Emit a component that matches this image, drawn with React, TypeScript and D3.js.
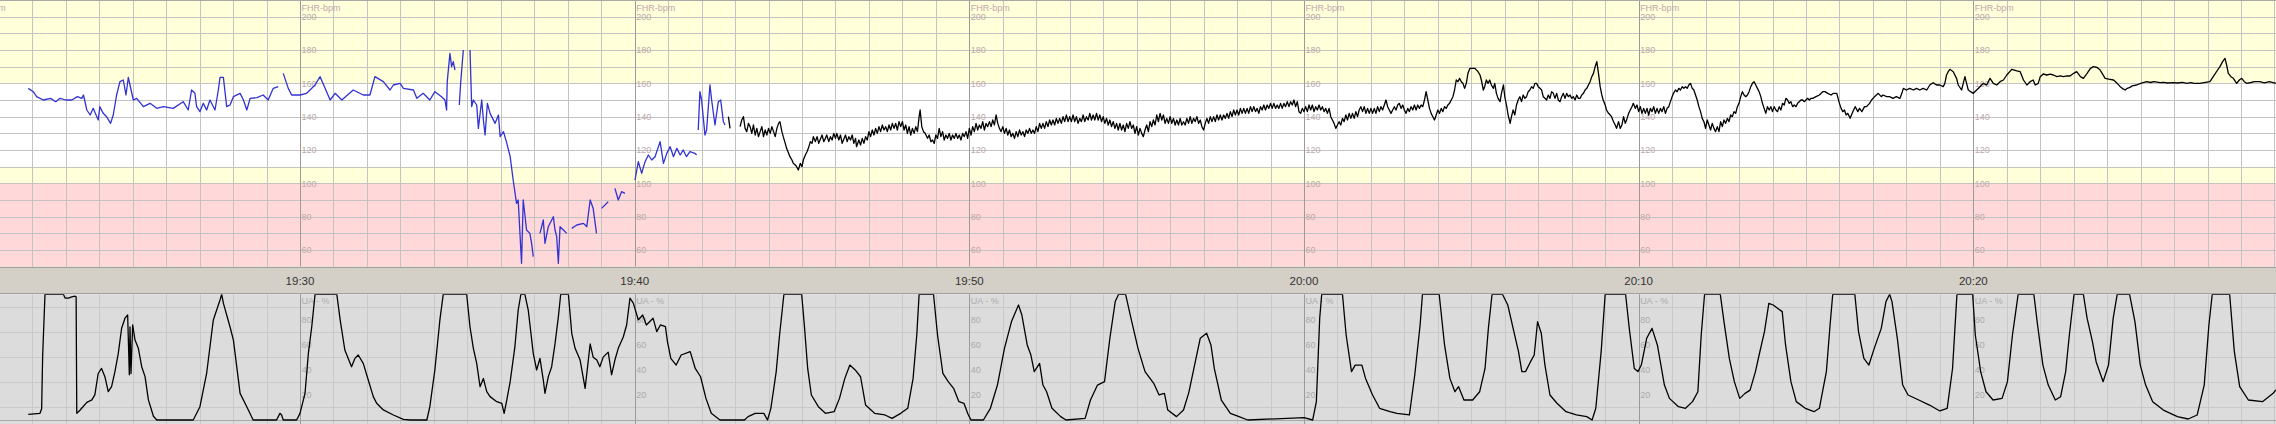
import React from 'react';
import * as d3 from 'd3';

const W = 2276;
const H = 424;

// time in minutes after 19:00
const majorMinutes = [20, 30, 40, 50, 60, 70, 80, 90];
const timeLabels = ['19:20', '19:30', '19:40', '19:50', '20:00', '20:10', '20:20', '20:30'];
const fhrTickValues = [200, 180, 160, 140, 120, 100, 80, 60];
const uaTickValues = [80, 60, 40, 20];
const uaGridValues = [10, 30, 50, 70, 90];

type P = [number, number | null];

const fhrBlue: P[] = [
  [21.88,157],[22.03,155],[22.13,152],[22.33,150],[22.55,151],[22.7,149],[22.83,151],[23.0,150],[23.18,150],[23.35,152],[23.48,151],[23.53,153],[23.63,144],[23.73,141],[23.82,145],[23.97,138],[24.02,146],[24.12,142],[24.22,140],[24.34,136],[24.42,141],[24.52,153],[24.62,161],[24.72,162],[24.80,153],[24.87,163.6],[24.92,159],[25.02,150],[25.12,151],[25.32,146],[25.52,148],[25.72,145],[25.92,146],[26.21,145],[26.51,149],[26.66,144],[26.76,156],[26.86,154],[26.91,146],[27.01,143],[27.11,148],[27.21,144],[27.31,150],[27.46,144],[27.56,156],[27.61,163.6],[27.71,163.6],[27.81,146],[27.91,147],[28.01,152],[28.21,154],[28.31,150],[28.41,144],[28.51,151],[28.71,151.4],[28.90,153],[29.05,150],[29.20,157],[29.35,158],[29.42,null],
  [29.50,166],[29.65,157],[29.75,153],[30.00,153],[30.20,154],[30.45,159],[30.60,164],[30.75,157],[30.90,150],[31.05,154],[31.25,150],[31.59,156],[31.89,153],[32.09,153],[32.24,164],[32.49,161],[32.69,156],[32.79,159],[32.99,160],[33.09,157],[33.39,156],[33.49,151],[33.68,154],[33.88,150],[34.03,155],[34.23,152],[34.33,150],[34.38,144],[34.40,161],[34.48,178],[34.53,170],[34.58,173],[34.63,168],[34.7,null],
  [34.76,147],[34.80,160],[34.88,180],[34.98,null],
  [35.08,180],[35.13,146],[35.18,150],[35.28,147],[35.33,133],[35.43,150],[35.48,138],[35.53,129],[35.60,148],[35.68,142],[35.83,136],[35.93,141],[35.98,128],[36.08,131],[36.18,124],[36.28,116],[36.37,102],[36.47,88],[36.52,90],[36.62,52],[36.67,90],[36.77,72],[36.87,70],[36.92,64],[36.97,56],[37.07,null],
  [37.17,70],[37.27,78],[37.32,64],[37.42,74],[37.57,80],[37.62,72],[37.67,68],[37.72,52],[37.77,74],[37.87,72],[37.97,70],[38.05,null],
  [38.12,73],[38.27,75],[38.47,76],[38.57,74],[38.67,90],[38.76,85],[38.86,70],[38.93,null],
  [39.01,85],[39.21,89],[39.3,null],
  [39.41,97],[39.51,90],[39.61,95],[39.71,94],[39.86,null],
  [40.01,102],[40.11,113],[40.21,106],[40.31,113],[40.41,117],[40.51,114],[40.61,116],[40.76,125],[40.86,112],[40.96,118],[41.06,122],[41.16,116],[41.26,121],[41.36,117],[41.45,120],[41.55,116],[41.65,119],[41.80,118],[41.85,117],[41.87,null],
  [41.90,132],[41.95,155],[42.00,150],[42.10,129],[42.15,132],[42.25,159],[42.30,150],[42.40,135],[42.50,149],[42.57,150],[42.65,137],[42.70,135],
];

const fhrBlack: P[] = [
  [42.80,140],[42.85,133],[43.0,null],
  [43.15,134],[43.2,138],[43.25,140],[43.3,133],[43.35,131],[43.4,136],[43.45,134],[43.5,130],[43.55,135],[43.6,129],[43.65,133],[43.7,128],[43.75,131],[43.8,134],[43.85,128],[43.9,132],[43.95,129],[44.0,133],[44.05,130],[44.1,134],[44.15,131],[44.2,128],[44.25,133],[44.3,136],[44.34,137],[44.4,131],[44.44,128],[44.5,124],[44.54,121],[44.6,118],[44.64,116],[44.7,114],[44.74,112],[44.8,111],[44.84,110],[44.89,108],[44.95,112],[45.0,110],[45.04,114],[45.1,117],[45.15,119],[45.19,121],[45.25,125],[45.3,124],[45.34,128],[45.4,125],[45.45,128],[45.5,124],[45.54,126],[45.6,129],[45.65,125],[45.7,127],[45.74,129],[45.8,125],[45.85,128],[45.9,126],[45.95,130],[46.0,127],[46.04,130],[46.1,126],[46.15,129],[46.2,124],[46.24,126],[46.3,129],[46.35,125],[46.4,128],[46.45,126],[46.5,129],[46.55,124],[46.6,127],[46.63,122],[46.7,126],[46.75,123],[46.8,127],[46.85,124],[46.9,128],[46.95,126],[47.0,131],[47.05,128],[47.1,132],[47.15,129],[47.2,133],[47.25,130],[47.3,134],[47.35,131],[47.4,135],[47.45,132],[47.5,134],[47.55,131],[47.6,135],[47.65,132],[47.7,136],[47.75,133],[47.8,136],[47.85,132],[47.9,137],[47.95,134],[48.0,137],[48.05,132],[48.1,135],[48.15,130],[48.2,134],[48.25,129],[48.3,133],[48.35,130],[48.4,134],[48.45,131],[48.5,140],[48.53,144],[48.58,134],[48.63,131],[48.68,130],[48.75,127],[48.8,129],[48.85,125],[48.9,126],[48.95,124],[49.0,129],[49.05,127],[49.1,133],[49.15,128],[49.2,131],[49.25,126],[49.3,129],[49.35,127],[49.4,130],[49.45,126],[49.5,129],[49.55,127],[49.6,130],[49.65,127],[49.7,129],[49.75,126],[49.8,130],[49.85,128],[49.9,131],[49.95,127],
  [50.0,133],[50.05,129],[50.1,134],[50.15,131],[50.2,136],[50.25,132],[50.3,135],[50.35,133],[50.4,137],[50.45,132],[50.5,136],[50.55,134],[50.6,137],[50.65,134],[50.7,138],[50.75,135],[50.8,141],[50.85,136],[50.9,133],[50.95,131],[51.0,134],[51.05,130],[51.1,133],[51.15,129],[51.2,132],[51.25,128],[51.3,130],[51.35,127],[51.4,131],[51.45,128],[51.5,132],[51.55,129],[51.6,131],[51.65,128],[51.7,132],[51.75,130],[51.8,133],[51.85,130],[51.9,132],[51.95,130],[52.0,134],[52.05,131],[52.1,136],[52.15,133],[52.2,136],[52.25,133],[52.3,137],[52.35,134],[52.4,138],[52.45,135],[52.5,138],[52.55,135],[52.6,139],[52.65,136],[52.7,139],[52.75,136],[52.8,140],[52.85,137],[52.9,141],[52.95,137],[53.0,140],[53.05,137],[53.1,141],[53.15,137],[53.2,140],[53.25,136],[53.3,139],[53.35,137],[53.4,141],[53.45,137],[53.5,140],[53.55,138],[53.6,142],[53.65,138],[53.7,141],[53.75,138],[53.8,142],[53.85,138],[53.9,141],[53.95,137],[54.0,140],[54.05,136],[54.1,139],[54.15,135],[54.2,138],[54.25,134],[54.3,137],[54.35,133],[54.4,136],[54.45,132],[54.5,136],[54.55,132],[54.6,135],[54.65,131],[54.7,136],[54.75,133],[54.8,137],[54.85,133],[54.9,135],[54.95,130],[55.0,134],[55.05,129],[55.1,133],[55.15,130],[55.2,128],[55.25,132],[55.3,135],[55.35,131],[55.4,137],[55.45,134],[55.5,138],[55.55,135],[55.6,141],[55.65,137],[55.7,142],[55.75,138],[55.8,141],[55.85,136],[55.9,139],[55.95,136],
  [56.0,140],[56.05,136],[56.1,139],[56.15,135],[56.2,138],[56.25,135],[56.3,139],[56.35,135],[56.4,137],[56.45,135],[56.5,139],[56.55,136],[56.6,140],[56.65,136],[56.7,139],[56.75,137],[56.8,140],[56.85,136],[56.9,138],[56.95,134],[57.0,132],[57.05,136],[57.1,139],[57.15,136],[57.2,140],[57.25,137],[57.3,140],[57.35,137],[57.4,141],[57.45,138],[57.5,141],[57.55,138],[57.6,141],[57.65,139],[57.7,142],[57.75,139],[57.8,143],[57.85,140],[57.9,144],[57.95,141],[58.0,144],[58.05,141],[58.1,145],[58.15,142],[58.2,145],[58.25,142],[58.3,145],[58.35,142],[58.4,146],[58.45,143],[58.5,146],[58.55,143],[58.6,145],[58.65,142],[58.7,146],[58.75,144],[58.8,147],[58.85,144],[58.9,147],[58.95,145],[59.0,148],[59.05,145],[59.1,148],[59.15,145],[59.2,147],[59.25,145],[59.3,148],[59.35,145],[59.4,148],[59.45,146],[59.5,149],[59.55,146],[59.6,149],[59.65,147],[59.7,150],[59.75,146],[59.8,149],[59.85,143],[59.9,142],[59.95,145],
  [60.0,143],[60.05,146],[60.1,143],[60.15,147],[60.2,144],[60.25,147],[60.3,143],[60.35,146],[60.4,144],[60.45,147],[60.5,144],[60.55,146],[60.6,143],[60.65,145],[60.7,142],[60.75,145],[60.8,140],[60.85,138],[60.9,136],[60.95,133],[61.0,135],[61.05,137],[61.1,135],[61.15,139],[61.2,137],[61.25,141],[61.3,138],[61.35,142],[61.4,139],[61.45,142],[61.5,139],[61.55,143],[61.6,140],[61.65,144],[61.7,146],[61.75,143],[61.8,146],[61.85,142],[61.9,145],[61.95,142],[62.0,145],[62.05,142],[62.1,145],[62.15,142],[62.2,146],[62.25,143],[62.3,146],[62.35,144],[62.4,147],[62.45,150],[62.5,146],[62.55,144],[62.6,142],[62.65,144],[62.7,146],[62.75,144],[62.8,147],[62.85,148],[62.9,145],[62.95,147],[63.0,144],[63.05,142],[63.1,145],[63.15,143],[63.2,146],[63.25,144],[63.3,147],[63.35,144],[63.4,147],[63.45,145],[63.5,147],[63.55,146],[63.6,150],[63.65,155],[63.7,150],[63.75,145],[63.8,142],[63.85,140],[63.9,138],[63.95,141],[64.0,144],[64.05,142],[64.1,145],[64.15,143],[64.2,146],[64.25,145],[64.3,147],[64.35,148],[64.4,150],[64.45,152],[64.5,156],[64.55,162],[64.6,161],[64.65,163],[64.7,161],[64.75,160],[64.8,157],[64.85,160],[64.9,166],[64.96,169],[65.05,169],[65.11,169],[65.2,167],[65.26,165],[65.3,162],[65.36,156],[65.4,158],[65.45,162],[65.5,160],[65.55,162],[65.6,159],[65.66,157],[65.7,160],[65.75,154],[65.8,151],[65.86,149],[65.9,154],[65.96,159],
  [66.0,152],[66.06,146],[66.1,141],[66.16,136],[66.2,140],[66.25,144],[66.3,141],[66.35,147],[66.4,150],[66.45,152],[66.5,149],[66.55,153],[66.6,151],[66.65,152],[66.7,155],[66.75,156],[66.8,158],[66.85,157],[66.9,160],[66.95,160],[67.0,158],[67.05,157],[67.1,156],[67.15,152],[67.2,151],[67.25,150],[67.3,153],[67.35,151],[67.4,155],[67.45,154],[67.5,151],[67.55,154],[67.6,150],[67.65,149],[67.7,152],[67.75,154],[67.8,151],[67.85,154],[67.9,152],[67.95,153],[68.0,151],[68.05,152],[68.1,150],[68.15,153],[68.2,151],[68.25,151],[68.3,153],[68.35,154],[68.4,156],[68.45,157],[68.5,159],[68.55,161],[68.6,164],[68.65,166],[68.7,170],[68.75,173],[68.8,166],[68.85,158],[68.9,153],[68.94,150],[69.0,147],[69.04,144],[69.1,142],[69.15,141],[69.19,140],[69.25,137],[69.3,135],[69.34,133],[69.4,137],[69.45,133],[69.5,135],[69.55,140],[69.6,136],[69.64,138],[69.7,142],[69.75,144],[69.8,146],[69.84,148],[69.9,145],[69.95,147],
  [70.0,143],[70.05,146],[70.1,142],[70.15,145],[70.2,142],[70.25,145],[70.3,141],[70.35,145],[70.4,143],[70.45,146],[70.5,142],[70.55,145],[70.6,142],[70.65,145],[70.7,143],[70.75,146],[70.8,142],[70.85,145],[70.9,146],[70.95,149],[71.0,152],[71.04,154],[71.1,156],[71.15,155],[71.2,157],[71.25,156],[71.3,158],[71.35,157],[71.4,158],[71.45,157],[71.5,159],[71.55,160],[71.6,157],[71.65,156],[71.7,153],[71.75,150],[71.8,146],[71.85,143],[71.9,139],[71.95,137],[72.0,133],[72.05,138],[72.1,135],[72.15,132],[72.2,136],[72.25,133],[72.3,131],[72.35,134],[72.4,131],[72.45,137],[72.5,134],[72.55,138],[72.6,136],[72.65,139],[72.7,137],[72.75,141],[72.8,140],[72.85,143],[72.9,142],[72.95,146],[73.0,148],[73.05,152],[73.1,155],[73.15,153],[73.2,152],[73.25,153],[73.3,155],[73.35,158],[73.4,160],[73.45,161],[73.5,159],[73.55,157],[73.6,155],[73.65,152],[73.7,148],[73.75,145],[73.8,142],[73.85,146],[73.9,144],[73.95,146],[74.0,143],[74.05,146],[74.1,144],[74.15,143],[74.2,146],[74.25,144],[74.3,148],[74.35,147],[74.4,151],[74.45,150],[74.5,148],[74.55,149],[74.6,146],[74.65,147],[74.7,146],[74.75,148],[74.8,149],[74.85,150],[74.9,150],[74.95,149],
  [75.0,150],[75.05,151],[75.1,150],[75.15,151],[75.2,151],[75.3,152],[75.4,153],[75.5,155],[75.57,155],[75.65,154],[75.75,153],[75.82,154],[75.92,154],[76.0,148],[76.05,145],[76.1,143],[76.15,144],[76.2,141],[76.25,142],[76.32,139],[76.4,143],[76.47,146],[76.55,143],[76.6,145],[76.67,143],[76.75,146],[76.81,146],[76.9,148],[76.96,150],[77.05,152],[77.16,154],[77.25,152],[77.3,153],[77.41,152],[77.5,152],[77.6,151],[77.7,152],[77.81,151],[77.88,155],[77.91,157],[78.0,156],[78.1,157],[78.21,156],[78.3,157],[78.4,156],[78.5,157],[78.61,156],[78.7,159],[78.80,160.4],[78.9,159],[79.0,159],[79.1,158],[79.15,160],[79.2,165],[79.25,167],[79.30,168.4],[79.4,167],[79.50,163],[79.55,159],[79.65,156],[79.7,160],[79.75,164],[79.8,160],[79.85,156],[79.92,155],
  [80.0,154],[80.1,156],[80.20,158],[80.3,160],[80.4,159],[80.50,163],[80.6,160],[80.70,159],[80.8,161],[80.90,162],[81.0,165],[81.15,168.4],[81.3,167.5],[81.40,167],[81.5,162],[81.60,159],[81.7,161],[81.79,162],[81.85,159],[81.94,160],[82.0,164],[82.09,165.6],[82.2,165],[82.3,165.5],[82.39,165],[82.5,164],[82.6,164.5],[82.69,164],[82.8,164.5],[82.89,164.4],[83.0,166],[83.09,167],[83.2,164],[83.29,163],[83.4,166],[83.5,169],[83.59,170],[83.7,169.5],[83.79,168],[83.85,166],[83.94,163],[84.05,162.5],[84.19,162],[84.3,160],[84.39,158],[84.45,157],[84.54,156],[84.6,157],[84.68,157.6],[84.75,158.5],[84.88,159],[85.0,160],[85.18,161],[85.3,160.5],[85.4,161],[85.58,160.4],[85.7,160.6],[85.8,160.2],[85.98,160.4],[86.1,160.2],[86.25,160.6],[86.38,160],[86.5,160.4],[86.6,160],[86.77,160],[86.9,160.4],[87.07,161],[87.17,164],[87.3,168],[87.37,170],[87.45,173],[87.52,175],[87.57,171],[87.62,166],[87.7,164],[87.77,163],[87.87,160],[87.95,162],[88.02,163],[88.1,161],[88.17,160],[88.3,160.5],[88.4,161],[88.56,161],[88.7,160.3],[88.85,161],[89.04,160],
];

const uaTrace: P[] = [
  [21.88,4.5],[22.23,5.3],[22.28,9],[22.31,51],[22.38,100],[22.93,100],[22.98,97],[23.08,97],[23.18,98],[23.28,98.5],[23.31,98],[23.33,5.3],[23.43,8],[23.63,14],[23.78,16],[23.87,20],[23.97,37],[24.07,41],[24.17,34.5],[24.27,22.6],[24.37,26.5],[24.47,38.4],[24.57,53],[24.67,73],[24.77,81],[24.85,83.5],[24.90,36],[24.92,74],[24.95,37],[25.00,75.6],[25.07,63.6],[25.17,57],[25.27,42.4],[25.37,34.5],[25.47,16],[25.62,3],[25.72,0],[26.81,0],[27.01,10.6],[27.21,37],[27.41,79.6],[27.51,87.5],[27.61,95.5],[27.66,100],[27.71,93],[27.91,74],[28.01,63.6],[28.21,21.2],[28.41,10.6],[28.60,0],[29.30,0],[29.40,5.3],[29.45,4],[29.50,0],[29.90,0],[30.00,5.3],[30.15,21.2],[30.25,53],[30.35,74],[30.45,100],[31.10,100],[31.20,79.6],[31.34,55.7],[31.54,42.4],[31.64,49],[31.74,51.7],[31.89,45],[32.04,31.8],[32.19,18.6],[32.29,13.3],[32.49,8],[32.79,4],[33.09,0.5],[33.29,0],[33.79,0],[33.88,10.6],[34.03,39.8],[34.18,79.6],[34.28,100],[34.98,100],[35.08,74],[35.18,57],[35.28,45],[35.38,26.5],[35.48,33],[35.58,22.6],[35.68,18.6],[35.88,14.6],[36.03,13.3],[36.10,5.3],[36.18,16],[36.28,30.5],[36.42,58],[36.52,87.5],[36.60,100],[36.72,100],[36.82,87.5],[36.97,53],[37.07,39.8],[37.17,49],[37.27,31.8],[37.32,21.2],[37.42,34.5],[37.52,42.4],[37.62,60.5],[37.72,82],[37.79,100],[38.02,100],[38.12,69],[38.22,57],[38.37,47.7],[38.52,25.2],[38.67,60.5],[38.76,50],[38.87,47.7],[38.96,42.4],[39.06,50],[39.21,54],[39.31,36],[39.41,47.7],[39.51,57],[39.66,66],[39.76,75.6],[39.86,97],[39.96,93],[40.11,79.6],[40.24,83.5],[40.35,75.6],[40.55,81],[40.66,70.3],[40.77,75.6],[40.92,74.2],[40.98,62.3],[41.08,49],[41.24,43.7],[41.39,51.7],[41.66,54.4],[41.81,41],[41.97,34.4],[42.08,22.5],[42.13,17.2],[42.29,5.3],[42.55,0],[43.28,0],[43.39,2.7],[43.60,5.3],[43.86,5.3],[43.97,0],[44.07,9.3],[44.23,38.5],[44.33,67.6],[44.46,100],[44.99,100],[45.07,75.6],[45.17,41],[45.28,19.9],[45.49,10.6],[45.70,5.3],[45.96,6.6],[46.12,17.2],[46.28,33.1],[46.43,43.7],[46.59,39.8],[46.75,34.4],[46.90,11.9],[47.17,5.3],[47.48,4],[47.69,1.3],[47.95,5.3],[48.16,9.3],[48.32,33.1],[48.43,67.6],[48.50,100],[48.93,100],[49.05,67.6],[49.21,37.1],[49.37,30.5],[49.53,25.2],[49.69,14.6],[49.84,13.3],[49.95,5.3],[50.05,0],[50.42,0],[50.63,9.3],[50.84,27.8],[51.05,57],[51.26,78.3],[51.47,91.5],[51.57,83.5],[51.73,59.7],[51.84,51.7],[51.94,38.5],[52.10,45],[52.20,27.8],[52.31,22.5],[52.47,9.3],[52.73,2.7],[52.89,0],[53.46,1.3],[53.62,15.9],[53.83,27.8],[54.04,30.5],[54.20,65],[54.36,94.2],[54.46,100],[54.67,100],[54.83,81],[55.04,57],[55.25,38.5],[55.51,29.2],[55.67,19.9],[55.83,21.2],[55.93,7.9],[56.19,2.7],[56.40,8],[56.56,22],[56.69,38.5],[56.90,65],[57.09,69],[57.22,59.7],[57.32,41],[57.53,15.9],[57.80,5.3],[58.06,2.7],[58.32,0],[60.00,1.9],[60.26,0],[60.37,14.6],[60.47,81],[60.53,100],[61.15,100],[61.26,67.6],[61.42,38.5],[61.53,43.7],[61.73,43.7],[61.84,33.1],[62.05,19.9],[62.26,9.3],[62.57,6.6],[62.78,5.3],[63.15,4],[63.31,35.8],[63.47,75.6],[63.54,100],[64.04,100],[64.20,59.7],[64.36,33.1],[64.51,22.5],[64.62,26.5],[64.78,15.9],[65.04,15.9],[65.25,22.5],[65.41,41],[65.51,72.9],[65.62,100],[65.93,100],[66.09,91.5],[66.25,72.9],[66.41,54.4],[66.51,38.5],[66.62,38.5],[66.77,46.4],[66.88,51.7],[66.98,78.3],[67.09,69],[67.20,43.7],[67.35,19.9],[67.56,13.3],[67.83,6.6],[68.14,4],[68.45,2.7],[68.61,0],[68.72,9.3],[68.88,54.4],[69.00,100],[69.61,100],[69.72,72.9],[69.87,41],[69.98,38.5],[70.08,43.7],[70.24,65],[70.40,72.9],[70.56,59.7],[70.77,27.8],[70.92,17.2],[71.19,10.6],[71.40,9.3],[71.61,14.6],[71.77,22.5],[71.87,67.6],[71.97,100],[72.44,100],[72.55,78.3],[72.71,49],[72.86,30.5],[73.02,17.2],[73.18,21.2],[73.33,23.8],[73.49,38.5],[73.60,51.7],[73.76,70.3],[73.89,92.8],[74.02,91.5],[74.18,88.3],[74.29,86.2],[74.39,59.7],[74.55,30.5],[74.71,14.6],[74.98,9.3],[75.24,6.6],[75.40,9.3],[75.61,38.5],[75.72,75.6],[75.80,100],[76.46,100],[76.57,70.3],[76.73,49],[76.88,43.7],[77.04,57],[77.25,72.9],[77.39,94.2],[77.50,100],[77.57,94.2],[77.73,65],[77.89,27.8],[78.05,19.9],[78.37,15.9],[78.69,11.9],[79.00,7.2],[79.22,9.3],[79.38,41],[79.51,99.5],[79.53,100],[79.98,100],[80.06,67.6],[80.22,38.5],[80.38,22.5],[80.59,15.9],[80.86,17.2],[81.02,30.5],[81.17,67.6],[81.34,100],[81.81,100],[81.92,75.6],[82.08,43.7],[82.24,27.8],[82.45,15.9],[82.61,18.5],[82.76,38.5],[82.87,67.6],[83.01,100],[83.29,100],[83.40,81],[83.56,62.3],[83.67,46.4],[83.88,30.5],[84.04,43.7],[84.18,81],[84.30,100],[84.67,100],[84.83,78.3],[84.99,43.7],[85.15,27.8],[85.36,14.6],[85.68,7.9],[86.10,2.7],[86.42,0.8],[86.69,4],[86.90,27.8],[87.04,75.6],[87.14,100],[87.66,100],[87.80,54.4],[87.96,26.5],[88.22,15.9],[88.64,14.6],[88.96,21.2],[89.04,24],
];

const FHR_TOP = 0;
const FHR_BOTTOM = 266.67;
const UA_TOP = 294.3;
const UA_ZERO = 420;

const x = d3.scaleLinear().domain([30, 80]).range([300, 1973.3]);
const yF = d3.scaleLinear().domain([50, 210]).range([FHR_BOTTOM, FHR_TOP]);
const yU = d3.scaleLinear().domain([0, 100]).range([UA_ZERO, UA_TOP]);

const fhrLine = d3.line<P>()
  .defined(d => d[1] !== null)
  .x(d => x(d[0]))
  .y(d => yF(d[1] as number));
const uaLine = d3.line<P>()
  .defined(d => d[1] !== null)
  .x(d => x(d[0]))
  .y(d => yU(Math.min(100, d[1] as number)));

const crisp = (v: number) => Math.round(v) + 0.5;

export default function App() {
  const minuteLines = d3.range(20, 91).filter(m => m % 10 !== 0);
  const fhrGrid = d3.range(60, 210, 10);
  const font = '"Liberation Sans", Arial, sans-serif';
  const visibleMajors = majorMinutes.filter(m => x(m) >= 0 && x(m) < W - 30);
  return (
    <svg width={W} height={H} style={{ position: 'absolute', left: 0, top: 0, display: 'block' }}
      xmlns="http://www.w3.org/2000/svg">
      <defs>
        <clipPath id="fhrClip"><rect x={0} y={0} width={W} height={FHR_BOTTOM} /></clipPath>
        <clipPath id="uaClip"><rect x={0} y={UA_TOP} width={W} height={H - UA_TOP} /></clipPath>
      </defs>
      {/* FHR background bands */}
      <rect x={0} y={yF(210)} width={W} height={yF(160) - yF(210)} fill="#FFFFD9" />
      <rect x={0} y={yF(160)} width={W} height={yF(110) - yF(160)} fill="#FFFFFF" />
      <rect x={0} y={yF(110)} width={W} height={yF(100) - yF(110)} fill="#FFFFD9" />
      <rect x={0} y={yF(100)} width={W} height={yF(50) - yF(100)} fill="#FFD9D9" />
      {/* FHR grid */}
      {fhrGrid.map(v => (
        <line key={'fh' + v} x1={0} x2={W} y1={crisp(yF(v))} y2={crisp(yF(v))} stroke="#C3C3C3" strokeWidth={1} />
      ))}
      {minuteLines.map(m => (
        <line key={'fv' + m} x1={crisp(x(m))} x2={crisp(x(m))} y1={0} y2={FHR_BOTTOM} stroke="#C3C3C3" strokeWidth={1} />
      ))}
      {majorMinutes.map(m => (
        <line key={'fm' + m} x1={crisp(x(m))} x2={crisp(x(m))} y1={0} y2={FHR_BOTTOM} stroke="#9A9A9A" strokeWidth={1} />
      ))}
      <line x1={0} x2={W} y1={0.5} y2={0.5} stroke="#A8A8A8" />
      {/* FHR labels: the one of the 19:20 line is partly visible at the left edge */}
      <g clipPath="url(#fhrClip)">
        <text x={x(20) + 1.5} y={10.5} fontFamily={font} fontSize={9} fill="#C4A6AE">FHR-bpm</text>
      </g>
      {visibleMajors.map(m => (
        <g key={'fl' + m} fontFamily={font} fontSize={9}>
          <text x={x(m) + 1.5} y={10.5} fill="#C4A6AE">FHR-bpm</text>
          {fhrTickValues.map(v => (
            <text key={v} x={x(m) + 1.5} y={yF(v) + 3.2} fill="#BCA9AC">{v}</text>
          ))}
        </g>
      ))}
      {/* FHR traces */}
      <g clipPath="url(#fhrClip)">
        <path d={fhrLine(fhrBlue) || ''} fill="none" stroke="#3232D2" strokeWidth={1.3} strokeLinejoin="round" />
        <path d={fhrLine(fhrBlack) || ''} fill="none" stroke="#000000" strokeWidth={1.3} strokeLinejoin="round" />
      </g>
      {/* time band */}
      <rect x={0} y={FHR_BOTTOM} width={W} height={UA_TOP - FHR_BOTTOM} fill="#D4D0C8" />
      <line x1={0} x2={W} y1={crisp(FHR_BOTTOM)} y2={crisp(FHR_BOTTOM)} stroke="#A0A0A0" />
      {visibleMajors.map(m => (
        <text key={'tl' + m} x={x(m)} y={284.5} textAnchor="middle" fontFamily={font} fontSize={11.5} fill="#333333">
          {timeLabels[majorMinutes.indexOf(m)]}
        </text>
      ))}
      {/* UA panel */}
      <rect x={0} y={UA_TOP} width={W} height={H - UA_TOP} fill="#DCDCDC" />
      {uaGridValues.map(v => (
        <line key={'uh' + v} x1={0} x2={W} y1={crisp(yU(v))} y2={crisp(yU(v))} stroke="#C9C9C9" />
      ))}
      {minuteLines.map(m => (
        <line key={'uv' + m} x1={crisp(x(m))} x2={crisp(x(m))} y1={UA_TOP} y2={H} stroke="#C9C9C9" />
      ))}
      {majorMinutes.map(m => (
        <line key={'um' + m} x1={crisp(x(m))} x2={crisp(x(m))} y1={UA_TOP} y2={H} stroke="#9A9A9A" />
      ))}
      <line x1={0} x2={W} y1={crisp(UA_TOP) - 1} y2={crisp(UA_TOP) - 1} stroke="#A0A0A0" />
      <line x1={0} x2={W} y1={crisp(UA_ZERO)} y2={crisp(UA_ZERO)} stroke="#A8A8A8" />
      {visibleMajors.map(m => (
        <g key={'ul' + m} fontFamily={font} fontSize={9} fill="#ABABAB">
          <text x={x(m) + 1.5} y={303.5}>UA - %</text>
          {uaTickValues.map(v => (
            <text key={v} x={x(m) + 1.5} y={yU(v) + 3.2}>{v}</text>
          ))}
        </g>
      ))}
      <g clipPath="url(#uaClip)">
        <path d={uaLine(uaTrace) || ''} fill="none" stroke="#000000" strokeWidth={1.3} strokeLinejoin="round" />
      </g>
    </svg>
  );
}
